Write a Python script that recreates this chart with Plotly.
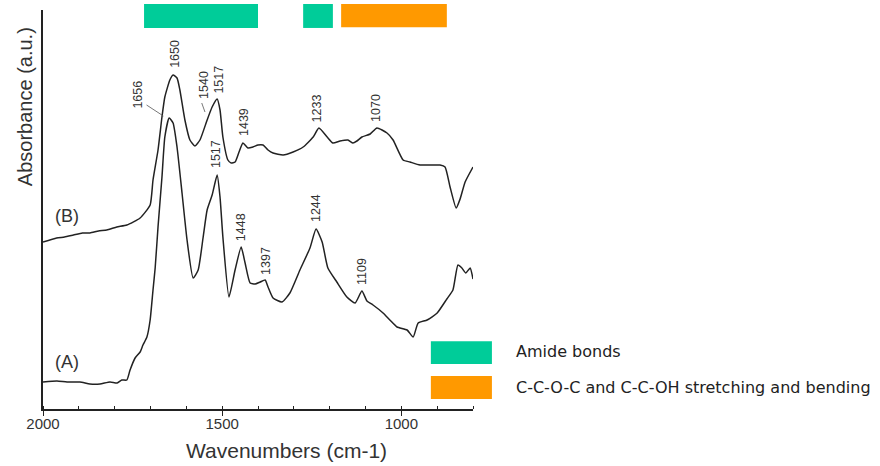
import plotly.graph_objects as go

# ---------------- data ----------------
# Spectrum (B)
wn_b = [2000, 1962, 1940, 1915, 1890, 1869, 1845, 1822, 1794, 1766, 1729, 1701, 1693, 1679,
        1668, 1660, 1646, 1637, 1626, 1618, 1604, 1590, 1576, 1562, 1542, 1528, 1514, 1506,
        1498, 1484, 1475, 1464, 1453, 1442, 1428, 1414, 1400, 1386, 1372, 1358, 1330, 1302,
        1274, 1246, 1230, 1207, 1191, 1171, 1149, 1135, 1124, 1110, 1087, 1068, 1040, 1023,
        995, 976, 948, 892, 878, 864, 847, 836, 822, 800]
abs_b = [16.7, 17.1, 17.2, 17.4, 17.6, 17.6, 17.8, 17.9, 18.2, 18.4, 19.1, 20.4, 22.9, 25.9,
         29.2, 31.2, 32.9, 33.4, 33.1, 31.9, 28.9, 26.9, 26.3, 26.9, 28.9, 30.2, 31.0, 29.9,
         27.2, 24.9, 24.6, 24.7, 25.7, 26.6, 26.1, 26.2, 26.4, 26.4, 25.9, 25.6, 25.4, 25.7,
         26.2, 27.2, 28.1, 27.2, 26.6, 26.8, 26.9, 26.6, 26.8, 27.2, 27.5, 28.1, 27.6, 26.9,
         24.9, 24.7, 24.4, 24.4, 24.2, 22.2, 20.1, 21.0, 22.7, 24.2]

# Spectrum (A)
wn_a = [2000, 1961, 1933, 1897, 1869, 1841, 1813, 1793, 1780, 1766, 1757, 1743, 1729, 1721,
        1710, 1701, 1693, 1687, 1679, 1668, 1660, 1648, 1637, 1626, 1612, 1598, 1581, 1567,
        1553, 1542, 1528, 1514, 1506, 1498, 1481, 1464, 1447, 1436, 1422, 1408, 1394, 1380,
        1372, 1358, 1333, 1311, 1283, 1255, 1238, 1221, 1205, 1180, 1152, 1129, 1110, 1096,
        1079, 1051, 1032, 1012, 984, 967, 953, 928, 900, 873, 856, 842, 831, 820, 808, 800]
abs_a = [2.7, 2.8, 2.7, 2.7, 2.5, 2.5, 2.7, 2.6, 2.9, 2.9, 3.9, 5.1, 5.7, 6.4,
         7.2, 8.9, 11.9, 14.1, 18.2, 23.2, 27.2, 29.1, 28.6, 26.2, 21.6, 16.9, 13.1, 13.9,
         17.2, 19.9, 21.4, 23.4, 21.2, 17.2, 11.2, 13.9, 16.2, 14.6, 12.6, 12.5, 12.7, 12.9,
         12.2, 11.1, 10.7, 11.6, 13.9, 16.1, 18.0, 16.7, 14.1, 12.7, 11.2, 10.6, 11.8, 10.8,
         10.4, 9.6, 8.9, 8.2, 7.9, 7.2, 8.6, 8.9, 9.6, 11.0, 11.9, 14.4, 14.1, 13.6, 14.1, 13.0]

# Band assignments (wavenumber ranges)
amide_ranges = [(1718, 1400), (1274, 1191)]
ccoc_ranges = [(1168, 873)]
legend_labels = ["Amide bonds", "C-C-O-C and C-C-OH stretching and bending"]

# Peak labels: text, label position (wavenumber, absorbance)
peak_labels = [("1650", 1632, 35.5), ("1656", 1736, 31.4), ("1540", 1551, 32.4),
               ("1517", 1510, 32.9), ("1439", 1439, 28.7), ("1233", 1234, 30.1),
               ("1070", 1071, 30.1), ("1517", 1517, 25.5), ("1448", 1447, 18.2),
               ("1397", 1378, 14.8), ("1244", 1238, 20.1), ("1109", 1110, 13.8)]
leader_lines = [((1711, 30.4), (1664, 29.3)), ((1557, 30.6), (1548, 29.7))]
curve_names = [("(B)", 1933, 19.3), ("(A)", 1933, 4.7)]

x_ticks = [2000, 1500, 1000]

TEAL = "#00CC99"
ORANGE = "#FF9900"
INK = "#222222"

fig = go.Figure()
fig.add_trace(go.Scatter(x=wn_b, y=abs_b, mode="lines",
                         line=dict(color=INK, width=1.5, shape="spline", smoothing=0.5),
                         hoverinfo="skip", showlegend=False))
fig.add_trace(go.Scatter(x=wn_a, y=abs_a, mode="lines",
                         line=dict(color=INK, width=1.5, shape="spline", smoothing=0.5),
                         hoverinfo="skip", showlegend=False))

shapes = []
for lo, hi in amide_ranges:
    shapes.append(dict(type="rect", xref="x", yref="paper", x0=lo, x1=hi, y0=0.955, y1=1.015,
                       fillcolor=TEAL, line=dict(width=0), layer="above"))
for lo, hi in ccoc_ranges:
    shapes.append(dict(type="rect", xref="x", yref="paper", x0=lo, x1=hi, y0=0.957, y1=1.015,
                       fillcolor=ORANGE, line=dict(width=0), layer="above"))
# legend swatches
shapes.append(dict(type="rect", xref="paper", yref="paper", x0=0.902, x1=1.044, y0=0.113, y1=0.170,
                   fillcolor=TEAL, line=dict(width=0)))
shapes.append(dict(type="rect", xref="paper", yref="paper", x0=0.902, x1=1.044, y0=0.025, y1=0.0827,
                   fillcolor=ORANGE, line=dict(width=0)))
for (x0, y0), (x1, y1) in leader_lines:
    shapes.append(dict(type="line", xref="x", yref="y", x0=x0, y0=y0, x1=x1, y1=y1,
                       line=dict(color="#555", width=0.8)))

annotations = []
for txt, x, y in peak_labels:
    annotations.append(dict(text=txt, x=x, y=y, xref="x", yref="y", showarrow=False,
                            xanchor="center", yanchor="middle", textangle=-90,
                            font=dict(family="Liberation Sans", size=12.5, color="#333")))
for txt, x, y in curve_names:
    annotations.append(dict(text=txt, x=x, y=y, xref="x", yref="y", showarrow=False,
                            xanchor="center", yanchor="middle",
                            font=dict(family="Liberation Sans", size=18, color="#333")))
for txt, y in zip(legend_labels, [0.1429, 0.0551]):
    annotations.append(dict(text=txt, x=1.0953, y=y, xref="paper", yref="paper", showarrow=False,
                            xanchor="left", yanchor="middle",
                            font=dict(family="DejaVu Sans", size=16, color=INK)))
annotations.append(dict(text="Absorbance (a.u.)", x=-0.0419, y=0.759, xref="paper", yref="paper",
                        showarrow=False, textangle=-90, xanchor="center", yanchor="middle",
                        font=dict(family="Liberation Sans", size=20, color="#333")))
annotations.append(dict(text="Wavenumbers (cm-1)", x=0.567, y=-0.103, xref="paper", yref="paper",
                        showarrow=False, xanchor="center", yanchor="middle",
                        font=dict(family="Liberation Sans", size=21, color="#333")))

fig.update_layout(
    width=880, height=466,
    margin=dict(l=43, r=407, t=10, b=57),
    paper_bgcolor="white", plot_bgcolor="white",
    shapes=shapes, annotations=annotations,
    xaxis=dict(range=[2000, 800], showline=True, linecolor=INK, linewidth=1.5,
               showgrid=False, zeroline=False, tickvals=x_ticks, ticks="outside",
               ticklen=5, tickcolor=INK, tickwidth=1.2, ticklabelstandoff=-5,
               tickfont=dict(family="Liberation Sans", size=15, color="#333"),
               minor=dict(dtick=100, ticks="inside", ticklen=3, tickcolor=INK, tickwidth=1)),
    yaxis=dict(range=[0, 39.9], showline=True, linecolor=INK, linewidth=1.5,
               showgrid=False, zeroline=False, showticklabels=False, ticks=""),
)

fig.write_html("out.html", config={"displayModeBar": False},
               post_script="document.body.style.margin='0';document.body.style.padding='0';")
